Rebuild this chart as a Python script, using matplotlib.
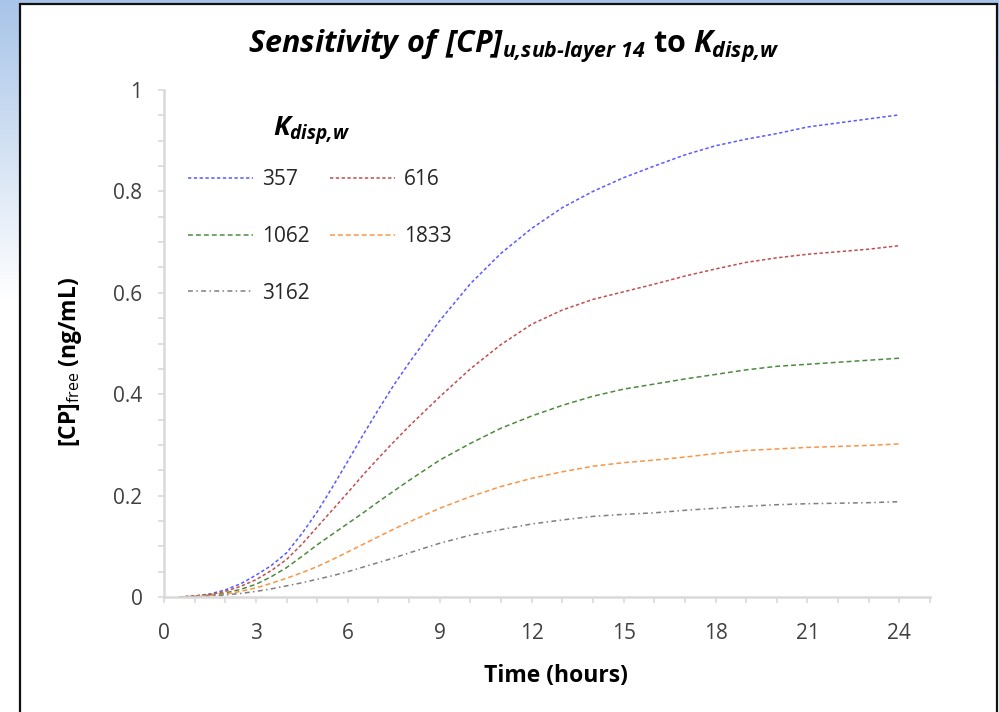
import numpy as np
import matplotlib
matplotlib.use("Agg")
import matplotlib.pyplot as plt
from matplotlib.patches import Rectangle

plt.rcParams['font.family'] = ['Open Sans', 'DejaVu Sans']
plt.rcParams['mathtext.fontset'] = 'custom'
plt.rcParams['mathtext.rm'] = 'Open Sans:italic:bold'
plt.rcParams['mathtext.it'] = 'Open Sans:italic:bold'
plt.rcParams['mathtext.bf'] = 'Open Sans:bold'
plt.rcParams['mathtext.sf'] = 'Open Sans'

# ---- data ----
time_h = [0.5, 1, 1.5, 2, 2.5, 3, 3.5, 4, 4.5, 5, 5.5, 6, 6.5, 7, 7.5, 8,
          9, 10, 11, 12, 13, 14, 15, 16, 17, 18, 19, 20, 21, 22, 23, 24]
k357 = [0.0, 0.002, 0.006, 0.014, 0.026, 0.043, 0.062, 0.087, 0.125, 0.168, 0.217,
        0.268, 0.32, 0.37, 0.418, 0.462,
        0.545, 0.618, 0.678, 0.727, 0.768, 0.80, 0.827, 0.85, 0.872, 0.89, 0.903,
        0.914, 0.927, 0.935, 0.943, 0.951]
k616 = [0.0, 0.002, 0.005, 0.011, 0.021, 0.034, 0.052, 0.074, 0.104, 0.138, 0.172,
        0.206, 0.241, 0.274, 0.306, 0.337,
        0.395, 0.45, 0.498, 0.538, 0.566, 0.587, 0.602, 0.617, 0.633, 0.647, 0.66,
        0.669, 0.676, 0.681, 0.686, 0.693]
k1062 = [0.0, 0.001, 0.004, 0.008, 0.015, 0.025, 0.04, 0.058, 0.08, 0.103, 0.124,
         0.145, 0.166, 0.188, 0.209, 0.23,
         0.27, 0.303, 0.333, 0.357, 0.378, 0.396, 0.41, 0.42, 0.43, 0.439, 0.448,
         0.455, 0.459, 0.463, 0.467, 0.471]
k1833 = [0.0, 0.001, 0.003, 0.006, 0.011, 0.018, 0.027, 0.037, 0.048, 0.06, 0.074,
         0.089, 0.104, 0.119, 0.134, 0.148,
         0.175, 0.198, 0.218, 0.234, 0.247, 0.258, 0.265, 0.27, 0.276, 0.283, 0.289,
         0.292, 0.295, 0.297, 0.299, 0.302]
k3162 = [0.0, 0.0005, 0.002, 0.004, 0.007, 0.011, 0.016, 0.022, 0.028, 0.035, 0.042,
         0.05, 0.059, 0.068, 0.077, 0.087,
         0.106, 0.122, 0.133, 0.144, 0.152, 0.159, 0.163, 0.166, 0.171, 0.175, 0.179,
         0.182, 0.184, 0.185, 0.186, 0.188]
series_labels = ['357', '616', '1062', '1833', '3162']
series_values = [k357, k616, k1062, k1833, k3162]
x_major_ticks = [0, 3, 6, 9, 12, 15, 18, 21, 24]
y_major_ticks = [0, 0.2, 0.4, 0.6, 0.8, 1]
y_tick_labels = ['0', '0.2', '0.4', '0.6', '0.8', '1']

colors = ['#5a5aff', '#c0504d', '#4e8a3e', '#f79646', '#7f7f7f']
dashes = [(2.2, 1.6), (2.2, 1.6), (3.2, 2.0), (3.2, 2.0), (3.2, 2.2, 1.0, 2.2)]

W, H = 999, 712
fig = plt.figure(figsize=(W / 100, H / 100), dpi=100)

# background gradient (slide)
bg = fig.add_axes([0, 0, 1, 1], zorder=-10)
yy = np.linspace(0, 1, 300)[:, None]
grad = np.clip(yy / 0.42, 0, 1)
top = np.array([0.66, 0.77, 0.91])
bot = np.array([1.0, 1.0, 1.0])
img = top[None, None, :] * (1 - grad[..., None]) + bot[None, None, :] * grad[..., None]
img = np.repeat(img, 2, axis=1)
bg.imshow(img, aspect='auto', extent=[0, 1, 0, 1], origin='upper')
bg.set_xlim(0, 1)
bg.set_ylim(0, 1)
bg.axis('off')
bg.add_patch(Rectangle((20 / W, -0.01), (997 - 20) / W, (712 - 4) / H + 0.01,
                       facecolor='white', edgecolor='#111111', lw=1.6,
                       transform=bg.transAxes))

ax = fig.add_axes([164 / W, (712 - 597) / H, (930 - 164) / W, 507 / H])
ax.set_facecolor('none')
handles = []
for lab, vals, c, d in zip(series_labels, series_values, colors, dashes):
    ln, = ax.plot(time_h, vals, color=c, lw=1.1, dashes=d, label=lab)
    handles.append(ln)

ax.set_xlim(0, 25)
ax.set_ylim(0, 1)
ax.set_xticks(x_major_ticks)
ax.set_xticks(np.arange(0, 26, 1), minor=True)
ax.set_yticks(y_major_ticks)
ax.set_yticklabels(y_tick_labels)
ax.set_yticks(np.arange(0, 1.0001, 0.05), minor=True)
for s in ['top', 'right']:
    ax.spines[s].set_visible(False)
for s in ['left', 'bottom']:
    ax.spines[s].set_color('#d9d9d9')
    ax.spines[s].set_linewidth(1.8)
ax.tick_params(which='both', direction='out', length=4.5, width=1.2, color='#d9d9d9')
ax.tick_params(axis='x', which='major', labelsize=15, labelcolor='#404040', pad=14)
ax.tick_params(axis='y', which='major', labelsize=15, labelcolor='#404040', pad=11)

fig.text(556 / W, 1 - 676 / H, 'Time (hours)', fontsize=16.5, fontweight='bold',
         ha='center', va='center')
fig.text(70 / W, 1 - 362 / H, r'[CP]$_{\mathsf{free}}$ (ng/mL)', fontsize=16.5,
         fontweight='bold', rotation=90, ha='center', va='center')

fig.text(514 / W, 1 - 53 / H,
         r'$\mathit{Sensitivity\ of\ [CP]}_{\mathit{u{,}sub\text{-}layer\ 14}}$ to $\mathit{K}_{\mathit{disp{,}w}}$',
         fontsize=22, fontweight='bold', ha='center', va='baseline')

# legend title
fig.text(312 / W, 1 - 136 / H, r'$\mathit{K}_{\mathit{disp{,}w}}$', fontsize=19.5,
         ha='center', va='baseline')

order = [0, 2, 4, 1, 3]
leg = ax.legend([handles[i] for i in order], [series_labels[i] for i in order],
                ncol=2, loc='upper left', bbox_to_anchor=(188 / W, 1 - 169 / H),
                bbox_transform=fig.transFigure, borderaxespad=0, borderpad=0,
                frameon=False, handlelength=3.1, handletextpad=0.45,
                columnspacing=1.0, labelspacing=1.72, fontsize=15)
for t in leg.get_texts():
    t.set_color('#262626')

fig.savefig('out.png', dpi=100)
